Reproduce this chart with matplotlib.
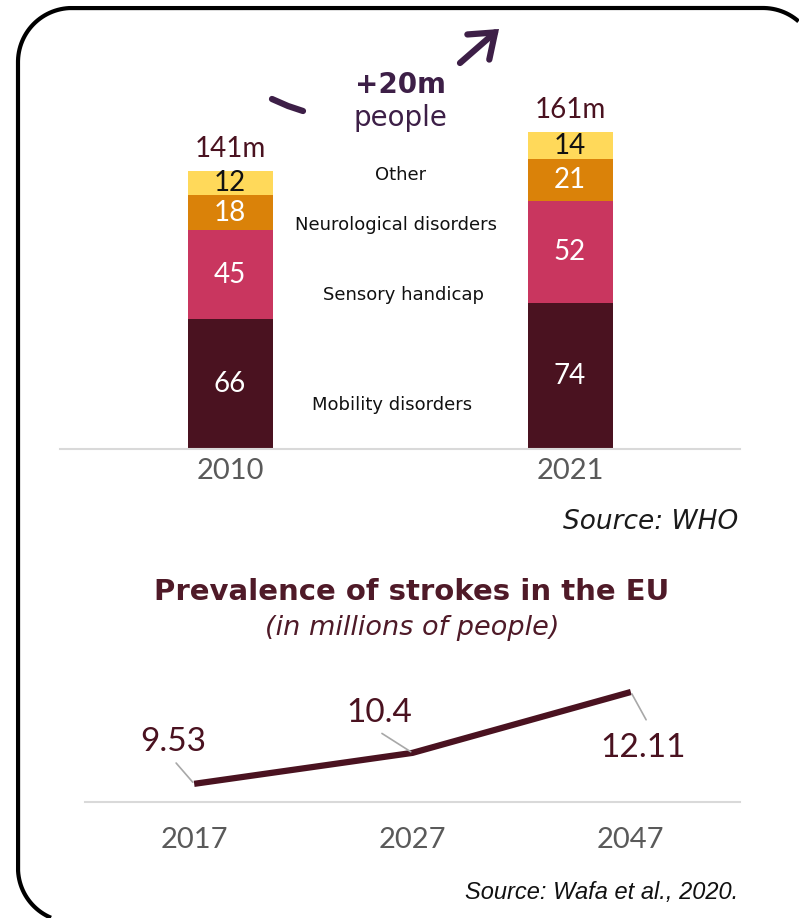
import matplotlib
matplotlib.use('Agg')
import matplotlib.pyplot as plt
from matplotlib.patches import FancyArrowPatch
import numpy as np

plt.rcParams['font.family'] = ['Lato', 'DejaVu Sans']
plt.rcParams['savefig.bbox'] = 'standard'
TXT = ['DejaVu Sans']

# ---------------- data ----------------
years_bar = ['2010', '2021']
categories = ['Mobility disorders', 'Sensory handicap', 'Neurological disorders', 'Other']
mobility = [66, 74]
sensory = [45, 52]
neuro = [18, 21]
other = [12, 14]
total_labels = ['141m', '161m']
growth_text = '+20m'
growth_sub = 'people'

stroke_years = ['2017', '2027', '2047']
stroke_values = [9.53, 10.4, 12.11]
stroke_labels = ['9.53', '10.4', '12.11']

# ---------------- style ----------------
seg_colors = ['#4A1220', '#C9365F', '#DA8209', '#FFD95A']
seg_text_colors = ['white', 'white', 'white', '#111111']
dark = '#4A1220'
purple = '#3D1F47'
gray_txt = '#5A5A5A'
axis_gray = '#D9D9D9'

W, H = 799, 918
def rect(l, t, r, b):
    return [l / W, 1 - b / H, (r - l) / W, (b - t) / H]

fig = plt.figure(figsize=(W / 100, H / 100), dpi=100)
fig.patch.set_facecolor('white')

# ---------------- stacked bars ----------------
ax1 = fig.add_axes(rect(60, 40, 740, 449))
ax1.set_facecolor('none')
x = np.arange(len(years_bar))
width = 0.25
series = [mobility, sensory, neuro, other]
bottom = np.zeros(len(x))
for vals, col, tcol in zip(series, seg_colors, seg_text_colors):
    bars = ax1.bar(x, vals, width, bottom=bottom, color=col, edgecolor='none')
    ax1.bar_label(bars, labels=[str(v) for v in vals], label_type='center',
                  color=tcol, fontsize=20)
    bottom = bottom + np.array(vals)

for xi, tot, lab in zip(x, bottom, total_labels):
    ax1.annotate(lab, (xi, tot), xytext=(0, 10), textcoords='offset points',
                 ha='center', va='baseline', fontsize=20, color=dark)

# category labels between the bars (layout positions in data units)
cat_pos = [(0.478, 22.3), (0.51, 78.2), (0.487, 113.7), (0.501, 139.1)]
for name, (cx, cy) in zip(categories, cat_pos):
    ax1.text(cx, cy, name, ha='center', va='center', fontsize=13,
             color='#111111', family=TXT)

ax1.set_xlim(-0.5, 1.5)
ax1.set_ylim(0, 409 / 1.97)
for s in ['top', 'right', 'left']:
    ax1.spines[s].set_visible(False)
ax1.spines['bottom'].set_color(axis_gray)
ax1.spines['bottom'].set_linewidth(1.5)
ax1.set_yticks([])
ax1.set_xticks(x)
ax1.set_xticklabels(years_bar, fontsize=21, color=gray_txt)
ax1.tick_params(axis='x', length=0, pad=6.5)

# ---------------- line chart ----------------
ax2 = fig.add_axes(rect(85, 660, 740, 802))
ax2.set_facecolor('none')
xs = np.arange(len(stroke_years))
ax2.plot(xs, stroke_values, color=dark, lw=4.5, solid_capstyle='butt',
         solid_joinstyle='miter')

label_off = [(-15, 30), (-24, 29), (9, -40)]      # label centre offsets (pt)
leader_off = [(-13, 15), (-22, 14), (11, -20)]    # leader start offsets (pt)
for xi, v, lab, lo, ld in zip(xs, stroke_values, stroke_labels, label_off, leader_off):
    ax2.annotate('', xy=(xi, v), xytext=ld, textcoords='offset points',
                 arrowprops=dict(arrowstyle='-', color='#A8A8A8', lw=1.2,
                                 shrinkA=0, shrinkB=1.5))
    ax2.annotate(lab, (xi, v), xytext=lo, textcoords='offset points',
                 ha='center', va='center', fontsize=24, color=dark)

ax2.set_xlim(-0.5, 2.5)
ax2.set_ylim(9.02, 9.02 + 142 / 35.6)
for s in ['top', 'right', 'left']:
    ax2.spines[s].set_visible(False)
ax2.spines['bottom'].set_color(axis_gray)
ax2.spines['bottom'].set_linewidth(1.5)
ax2.set_yticks([])
ax2.set_xticks(xs)
ax2.set_xticklabels(stroke_years, fontsize=21, color=gray_txt)
ax2.tick_params(axis='x', length=0, pad=18)

# ---------------- overlay (frame, titles, arrow) ----------------
ov = fig.add_axes([0, 0, 1, 1], zorder=10)
ov.set_facecolor('none')
ov.set_xlim(0, W)
ov.set_ylim(H, 0)
ov.set_autoscale_on(False)
ov.axis('off')

# rounded frame: only the part that lies on the canvas (it runs off right/bottom)
L, T, rad = 18, 8, 54
R_c = 763          # x of the top-right corner centre
B_c = 868          # y of the bottom-left corner centre
t = np.linspace(0, np.pi / 2, 60)
# top-right arc (clipped at the right canvas edge), from right to left
tr_x = R_c + rad * np.cos(t)
tr_y = (T + rad) - rad * np.sin(t)
keep = tr_x <= W
tr_x, tr_y = tr_x[keep], tr_y[keep]
# top-left arc
tl_x = (L + rad) - rad * np.sin(t)
tl_y = (T + rad) - rad * np.cos(t)
# bottom-left arc, clipped at the bottom canvas edge
bl_x = (L + rad) - rad * np.cos(t)
bl_y = B_c + rad * np.sin(t)
keep = bl_y <= H
bl_x, bl_y = bl_x[keep], bl_y[keep]
fx = np.concatenate([tr_x, tl_x, bl_x])
fy = np.concatenate([tr_y, tl_y, bl_y])
ov.plot(fx, fy, color='black', lw=3, solid_joinstyle='round',
        solid_capstyle='butt')

ov.text(400, 85, growth_text, ha='center', va='center', fontsize=20,
        fontweight='bold', color=purple, family=TXT)
ov.text(400, 118, growth_sub, ha='center', va='center', fontsize=20,
        color=purple, family=TXT)
ov.plot([272, 288, 303], [99, 106, 111], color=purple, lw=4.5,
        solid_capstyle='round')
arr = FancyArrowPatch((460, 63), (499, 29),
                      arrowstyle='->,head_length=16,head_width=12',
                      color=purple, lw=4.5, capstyle='round', joinstyle='miter',
                      shrinkA=0, shrinkB=0)
ov.add_patch(arr)

ov.text(738, 522, 'Source: WHO', ha='right', va='center', fontsize=19,
        style='italic', color='#1A1A1A', family=TXT)
ov.text(412, 592, 'Prevalence of strokes in the EU', ha='center', va='center',
        fontsize=21, fontweight='bold', color='#4F1A28', family=TXT)
ov.text(412, 628, '(in millions of people)', ha='center', va='center',
        fontsize=19.5, style='italic', color='#4F1A28', family=TXT)
ov.text(738, 893, 'Source: Wafa et al., 2020.', ha='right', va='center',
        fontsize=17, style='italic', color='#111111', family=['Liberation Sans'])

fig.savefig('out.png', dpi=100)
